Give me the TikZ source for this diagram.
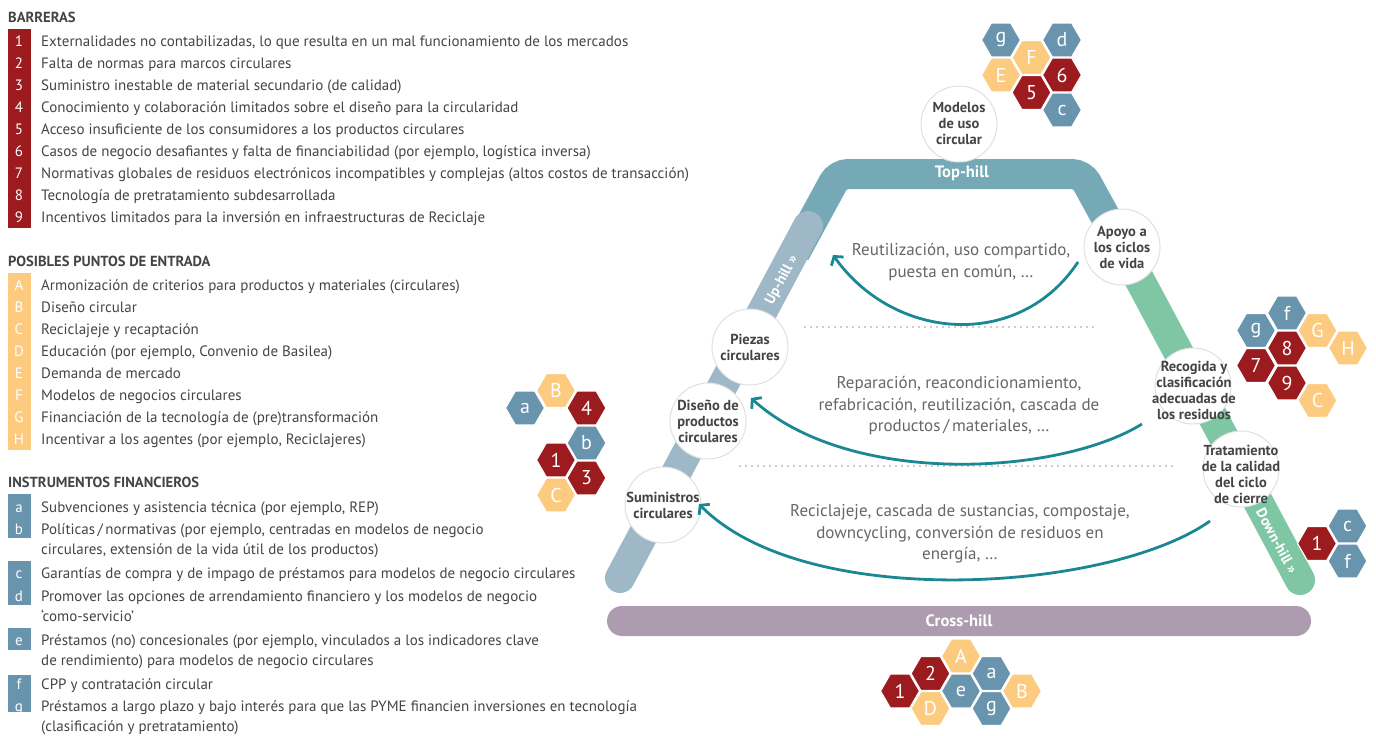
\documentclass[tikz,border=0pt]{standalone}
\usepackage{fontspec}
\setmainfont{PT Sans}
\usetikzlibrary{shapes.geometric,arrows.meta}
\definecolor{barred}{HTML}{9B1B1F}
\definecolor{entyel}{HTML}{FDCB80}
\definecolor{finblue}{HTML}{6894AE}
\definecolor{tophill}{HTML}{74A9B5}
\definecolor{uphill}{HTML}{9EB8C8}
\definecolor{downhill}{HTML}{7FC6A4}
\definecolor{crosshill}{HTML}{AD9BAF}
\definecolor{ringteal}{HTML}{1B8793}
\definecolor{txtdark}{HTML}{444444}
\definecolor{txtlight}{HTML}{666666}
\begin{document}
\begin{tikzpicture}[x=1pt,y=-1pt,
    leghead/.style={anchor=base west,inner sep=0pt,text=txtdark,font=\bfseries\fontsize{14.6}{16}\selectfont},
    legitem/.style={anchor=base west,inner sep=0pt,text=txtdark,font=\fontsize{15}{20}\selectfont},
    legtag/.style={anchor=base,inner sep=0pt,text=white,font=\fontsize{15}{20}\selectfont},
    hexa/.style={regular polygon,regular polygon sides=6,minimum size=39pt,inner sep=0pt,
        draw=white,line width=1.2pt,text=white,font=\fontsize{20}{20}\selectfont},
    redhex/.style={hexa,fill=barred},
    yelhex/.style={hexa,fill=entyel},
    bluhex/.style={hexa,fill=finblue},
    stopc/.style={circle,minimum size=76pt,inner sep=0pt,fill=white,draw=black!12,line width=1pt},
    stoptxt/.style={align=center,inner sep=0pt,text=txtdark,font=\bfseries\fontsize{14.5}{16}\selectfont},
    band/.style={line width=30pt},
    bandtxt/.style={inner sep=0pt,text=white,font=\bfseries\fontsize{16.5}{16.5}\selectfont},
    ringarrow/.style={draw=ringteal,line width=2.8pt,-{Straight Barb[length=6pt,width=15pt]}},
    ringtxt/.style={align=center,inner sep=0pt,text=txtlight,font=\fontsize{17}{21.5}\selectfont},
    dotline/.style={draw=black!40,line width=1.6pt,dash pattern=on 0pt off 6pt,line cap=round}]
    \useasboundingbox (0,0) rectangle (1376,736);

    % Legend:
    % The coloured bars are plain rectangles, the letters sit on them as nodes
    \fill [barred] (8,29) rectangle (31,228);
    \fill [entyel] (8,273) rectangle (31,450);
    \fill [finblue] (8,494) rectangle (31,538);
    \fill [finblue] (8,561) rectangle (31,605);
    \fill [finblue] (8,628) rectangle (31,650);
    \fill [finblue] (8,675) rectangle (31,712);

    \node [leghead] (hbar) at (8,22) {BARRERAS};
    \node [legtag] (t1) at (19,46) {1};
    \node [legitem] (l1) at (41,46) {Externalidades no contabilizadas, lo que resulta en un mal funcionamiento de los mercados};
    \node [legtag] (t2) at (19,68) {2};
    \node [legitem] (l2) at (41,68) {Falta de normas para marcos circulares};
    \node [legtag] (t3) at (19,90) {3};
    \node [legitem] (l3) at (41,90) {Suministro inestable de material secundario (de calidad)};
    \node [legtag] (t4) at (19,112) {4};
    \node [legitem] (l4) at (41,112) {Conocimiento y colaboración limitados sobre el diseño para la circularidad};
    \node [legtag] (t5) at (19,134) {5};
    \node [legitem] (l5) at (41,134) {Acceso insuficiente de los consumidores a los productos circulares};
    \node [legtag] (t6) at (19,156) {6};
    \node [legitem] (l6) at (41,156) {Casos de negocio desafiantes y falta de financiabilidad (por ejemplo, logística inversa)};
    \node [legtag] (t7) at (19,178) {7};
    \node [legitem] (l7) at (41,178) {Normativas globales de residuos electrónicos incompatibles y complejas (altos costos de transacción)};
    \node [legtag] (t8) at (19,200) {8};
    \node [legitem] (l8) at (41,200) {Tecnología de pretratamiento subdesarrollada};
    \node [legtag] (t9) at (19,222) {9};
    \node [legitem] (l9) at (41,222) {Incentivos limitados para la inversión en infraestructuras de Reciclaje};

    \node [leghead] (hent) at (8,266) {POSIBLES PUNTOS DE ENTRADA};
    \node [legtag] (tA) at (19,290) {A};
    \node [legitem] (lA) at (41,290) {Armonización de criterios para productos y materiales (circulares)};
    \node [legtag] (tB) at (19,312) {B};
    \node [legitem] (lB) at (41,312) {Diseño circular};
    \node [legtag] (tC) at (19,334) {C};
    \node [legitem] (lC) at (41,334) {Reciclajeje y recaptación};
    \node [legtag] (tD) at (19,356) {D};
    \node [legitem] (lD) at (41,356) {Educación (por ejemplo, Convenio de Basilea)};
    \node [legtag] (tE) at (19,378) {E};
    \node [legitem] (lE) at (41,378) {Demanda de mercado};
    \node [legtag] (tF) at (19,400) {F};
    \node [legitem] (lF) at (41,400) {Modelos de negocios circulares};
    \node [legtag] (tG) at (19,422) {G};
    \node [legitem] (lG) at (41,422) {Financiación de la tecnología de (pre)transformación};
    \node [legtag] (tH) at (19,444) {H};
    \node [legitem] (lH) at (41,444) {Incentivar a los agentes (por ejemplo, Reciclajeres)};

    \node [leghead] (hfin) at (8,487) {INSTRUMENTOS FINANCIEROS};
    \node [legtag] (ta) at (19,512) {a};
    \node [legitem] (la) at (41,512) {Subvenciones y asistencia técnica (por ejemplo, REP)};
    \node [legtag] (tb) at (19,534) {b};
    \node [legitem] (lb) at (41,534) {Políticas\,/\,normativas (por ejemplo, centradas en modelos de negocio};
    \node [legitem] (lb2) at (41,554) {circulares, extensión de la vida útil de los productos)};
    \node [legtag] (tc) at (19,578) {c};
    \node [legitem] (lc) at (41,578) {Garantías de compra y de impago de préstamos para modelos de negocio circulares};
    \node [legtag] (td) at (19,601) {d};
    \node [legitem] (ld) at (41,601) {Promover las opciones de arrendamiento financiero y los modelos de negocio};
    \node [legitem] (ld2) at (41,621) {‘como-servicio’};
    \node [legtag] (te) at (19,645) {e};
    \node [legitem] (le) at (41,645) {Préstamos (no) concesionales (por ejemplo, vinculados a los indicadores clave};
    \node [legitem] (le2) at (41,665) {de rendimiento) para modelos de negocio circulares};
    \node [legtag] (tf) at (19,689) {f};
    \node [legitem] (lf) at (41,689) {CPP y contratación circular};
    \node [legtag] (tg) at (19,711) {g};
    \node [legitem] (lg) at (41,711) {Préstamos a largo plazo y bajo interés para que las PYME financien inversiones en tecnología};
    \node [legitem] (lg2) at (41,731) {(clasificación y pretratamiento)};

    % The hill:
    % Thick lines, the up-hill and down-hill parts are drawn over the top-hill part
    \draw [band,tophill,rounded corners=10pt] (795,253) -- (838,174) -- (1082,174) -- (1128,258);
    \draw [band,uphill,line cap=round] (620,578) -- (808,226);
    \draw [band,downhill,line cap=round] (1128,258) -- (1300,580);
    \node [bandtxt] (top) at (962,173) {Top-hill};
    \node [bandtxt,rotate=61.7,font=\bfseries\fontsize{14.5}{14.5}\selectfont] (up) at (782,280) {Up-hill »};
    \node [bandtxt,rotate=-61.7,font=\bfseries\fontsize{14.5}{14.5}\selectfont] (down) at (1277,541) {Down-hill »};
    \node [bandtxt,fill=crosshill,rounded corners=15pt,minimum width=704pt,minimum height=30pt] (cross) at (959,621) {Cross-hill};

    % Stops along the hill
    \node [stopc] (modelos) at (959,124) {};
    \node [stoptxt] (modelosT) at (modelos) {Modelos\\de uso\\circular};
    \node [stopc] (apoyo) at (1122,247) {};
    \node [stoptxt] (apoyoT) at (apoyo) {Apoyo a\\los ciclos\\de vida};
    \node [stopc] (piezas) at (750,347) {};
    \node [stoptxt] (piezasT) at (piezas) {Piezas\\circulares};
    \node [stopc] (diseno) at (708,421) {};
    \node [stoptxt] (disenoT) at (diseno) {Diseño de\\productos\\circulares};
    \node [stopc] (suministros) at (663,505) {};
    \node [stoptxt] (suministrosT) at (suministros) {Suministros\\circulares};
    \node [stopc] (recogida) at (1193,386) {};
    \node [stoptxt] (recogidaT) at (1194,390) {Recogida y\\clasificación\\adecuadas de\\los residuos};
    \node [stopc] (tratamiento) at (1241,469) {};
    \node [stoptxt] (tratamientoT) at (1241,474) {Tratamiento\\de la calidad\\del ciclo\\de cierre};

    % Loops inside the hill
    \draw [dotline] (805,327) -- (1097,327);
    \draw [dotline] (740,466) -- (1172,466);
    \node [ringtxt] (reuse) at (961,262) {Reutilización, uso compartido,\\puesta en común, …};
    \node [ringtxt] (repair) at (959,406) {Reparación, reacondicionamiento,\\refabricación, reutilización, cascada de\\productos\,/\,materiales, …};
    \node [ringtxt] (recycle) at (960,534) {Reciclajeje, cascada de sustancias, compostaje,\\downcycling, conversión de residuos en\\energía, …};
    \coordinate (r1s) at (1078,262);
    \coordinate (r1e) at (833,255);
    \coordinate (r2s) at (1142,424);
    \coordinate (r2e) at (751,398);
    \coordinate (r3s) at (1210,521);
    \coordinate (r3e) at (699,504);
    \draw [ringarrow] (r1s) .. controls (1020,350) and (895,342) .. (r1e);
    \draw [ringarrow] (r2s) .. controls (1060,475) and (850,488) .. (r2e);
    \draw [ringarrow] (r3s) .. controls (1110,592) and (805,612) .. (r3e);

    % Hexagon clusters
    \node [bluhex] (tg) at (1001,40) {g};
    \node [yelhex] (tE) at (1001,75) {E};
    \node [yelhex] (tF) at (1031.5,57.5) {F};
    \node [redhex] (t5) at (1031.5,92.5) {5};
    \node [bluhex] (td) at (1062,40) {d};
    \node [redhex] (t6) at (1062,75) {6};
    \node [bluhex] (tc) at (1062,110) {c};

    \node [bluhex] (la) at (525,408) {a};
    \node [yelhex] (lB) at (556,390.5) {B};
    \node [redhex] (l4) at (586.5,408) {4};
    \node [bluhex] (lb) at (586.5,443) {b};
    \node [redhex] (l1) at (556,460) {1};
    \node [redhex] (l3) at (586.5,478) {3};
    \node [yelhex] (lC) at (556,495) {C};

    \node [bluhex] (rf) at (1287,313) {f};
    \node [bluhex] (rg) at (1256,330.5) {g};
    \node [yelhex] (rG) at (1317.5,330.5) {G};
    \node [redhex] (r8) at (1287,348) {8};
    \node [yelhex] (rH) at (1348,348) {H};
    \node [redhex] (r7) at (1256,365.5) {7};
    \node [redhex] (r9) at (1287,383) {9};
    \node [yelhex] (rC) at (1317.5,400.5) {C};

    \node [redhex] (d1) at (1317,543.5) {1};
    \node [bluhex] (dc) at (1347.5,526) {c};
    \node [bluhex] (df) at (1347.5,561) {f};

    \node [redhex] (b1) at (900,691) {1};
    \node [redhex] (b2) at (930.5,673.5) {2};
    \node [yelhex] (bD) at (930.5,708.5) {D};
    \node [yelhex] (bA) at (961,656) {A};
    \node [bluhex] (be) at (961,691) {e};
    \node [bluhex] (ba) at (991.5,673.5) {a};
    \node [bluhex] (bg) at (991.5,708.5) {g};
    \node [yelhex] (bB) at (1022,691) {B};
\end{tikzpicture}
\end{document}
